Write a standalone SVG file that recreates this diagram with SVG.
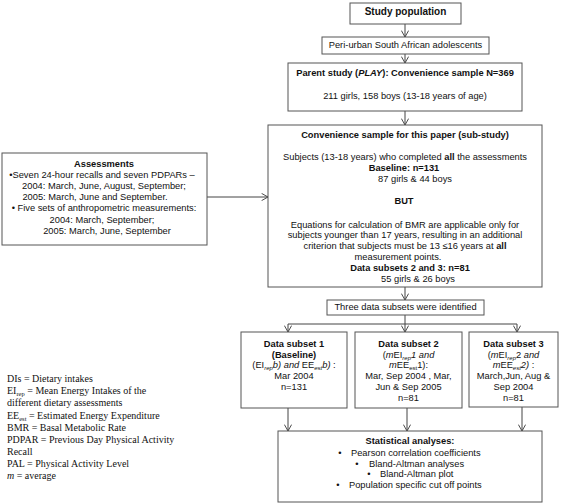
<svg xmlns="http://www.w3.org/2000/svg" width="569" height="504" viewBox="0 0 569 504">
<defs>
<style>
.box{fill:#fff;stroke:#555;stroke-width:1}
.t{font-family:"Liberation Sans",Arial,sans-serif;font-size:9.3px;fill:#111;text-anchor:middle}
.b{font-weight:bold}
.i{font-style:italic}
.lg{font-family:"Liberation Serif","Times New Roman",serif;font-size:10px;fill:#111}
.c{stroke:#444;fill:none;stroke-width:1}
</style>
<marker id="ah" viewBox="0 0 10 10" refX="10" refY="5" markerWidth="8" markerHeight="8" markerUnits="userSpaceOnUse" orient="auto">
<path d="M2,0.5 L10,5 L2,9.5" fill="none" stroke="#444" stroke-width="1.2"/>
</marker>
</defs>
<rect width="569" height="504" fill="#fff"/>

<g id="connectors">
<line class="c" x1="405" y1="24" x2="405" y2="37" marker-end="url(#ah)"/>
<line class="c" x1="405" y1="54" x2="405" y2="63" marker-end="url(#ah)"/>
<line class="c" x1="405" y1="111" x2="405" y2="125" marker-end="url(#ah)"/>
<line class="c" x1="207" y1="197" x2="268" y2="197" marker-end="url(#ah)"/>
<line class="c" x1="405" y1="287" x2="405" y2="300" marker-end="url(#ah)"/>
<polyline class="c" points="405,315 405,324"/>
<line class="c" x1="288" y1="324" x2="517" y2="324"/>
<line class="c" x1="288" y1="324" x2="288" y2="332" marker-end="url(#ah)"/>
<line class="c" x1="405" y1="324" x2="405" y2="332" marker-end="url(#ah)"/>
<line class="c" x1="517" y1="324" x2="517" y2="332" marker-end="url(#ah)"/>
<line class="c" x1="288" y1="408" x2="288" y2="431" marker-end="url(#ah)"/>
<line class="c" x1="407" y1="408" x2="407" y2="431" marker-end="url(#ah)"/>
<line class="c" x1="522" y1="398" x2="522" y2="431" marker-end="url(#ah)"/>
</g>

<g id="study-population">
<rect class="box" x="350" y="3" width="111" height="21"/>
<text class="t b" x="405.5" y="14.6" style="font-size:10px">Study population</text>
</g>

<g id="peri-urban">
<rect class="box" x="322" y="37" width="167" height="17"/>
<text class="t" x="405.5" y="47.5">Peri-urban South African adolescents</text>
</g>

<g id="parent-study">
<rect class="box" x="288" y="63" width="234" height="48"/>
<text class="t b" x="405" y="75.5">Parent study (<tspan class="i">PLAY</tspan>): Convenience sample N=369</text>
<text class="t" x="405" y="98.5">211 girls, 158 boys (13-18 years of age)</text>
</g>

<g id="assessments">
<rect class="box" x="2" y="153" width="205" height="92"/>
<text class="t b" x="104" y="166.5">Assessments</text>
<text class="t" x="102" y="177.5">•Seven 24-hour recalls and seven PDPARs  –</text>
<text class="t" x="104" y="188.5">2004: March,  June,  August, September;</text>
<text class="t" x="95" y="199.5">2005: March,  June and September.</text>
<text class="t" x="104" y="210.5">• Five sets of anthropometric measurements:</text>
<text class="t" x="102" y="222.5">2004: March, September;</text>
<text class="t" x="107" y="233.5">2005: March, June, September</text>
</g>

<g id="convenience-sample">
<rect class="box" x="268" y="125" width="274" height="162"/>
<text class="t b" x="405" y="137.5">Convenience sample for this paper (sub-study)</text>
<text class="t" x="405" y="159.5">Subjects (13-18 years) who completed <tspan class="b">all</tspan> the assessments</text>
<text class="t b" x="404" y="170.5">Baseline: n=131</text>
<text class="t" x="415" y="181.5">87 girls &amp; 44 boys</text>
<text class="t b" x="404" y="203.5">BUT</text>
<text class="t" x="405" y="227.5">Equations for calculation of BMR are applicable only for</text>
<text class="t" x="405" y="238">subjects younger than 17 years, resulting in an additional</text>
<text class="t" x="405" y="248.5">criterion that subjects must be 13 ≤16 years at <tspan class="b">all</tspan></text>
<text class="t" x="398" y="259.5">measurement points.</text>
<text class="t b" x="410" y="270.5">Data subsets 2 and 3: n=81</text>
<text class="t" x="418" y="281.5">55 girls &amp; 26 boys</text>
</g>

<g id="three-subsets">
<rect class="box" x="327" y="300" width="157" height="15"/>
<text class="t" x="405.5" y="310.2">Three data subsets were identified</text>
</g>

<g id="subset-1">
<rect class="box" x="241" y="332" width="106" height="76"/>
<text class="t b" x="294" y="346.5">Data subset 1</text>
<text class="t b" x="294" y="357.5">(Baseline)</text>
<text class="t" x="294" y="367.5">(EI<tspan class="i" font-size="6" dy="2">rep</tspan><tspan class="i" dy="-2">b) and </tspan>EE<tspan class="i" font-size="6" dy="2">est</tspan><tspan class="i" dy="-2">b)</tspan> :</text>
<text class="t" x="294" y="378.5">Mar 2004</text>
<text class="t" x="294" y="389.5">n=131</text>
</g>

<g id="subset-2">
<rect class="box" x="355" y="332" width="107" height="76"/>
<text class="t b" x="408.5" y="346.5">Data subset 2</text>
<text class="t" x="408.5" y="357.5">(<tspan class="i">m</tspan>EI<tspan class="i" font-size="6" dy="2">rep</tspan><tspan class="i" dy="-2">1 and</tspan></text>
<text class="t" x="408.5" y="367.5"><tspan class="i">m</tspan>EE<tspan font-size="6" dy="2">est</tspan><tspan dy="-2">1):</tspan></text>
<text class="t" x="408.5" y="378.5">Mar, Sep 2004 , Mar,</text>
<text class="t" x="408.5" y="389.5">Jun &amp; Sep 2005</text>
<text class="t" x="408.5" y="400.5">n=81</text>
</g>

<g id="subset-3">
<rect class="box" x="469" y="332" width="89" height="75"/>
<text class="t b" x="513.5" y="346.5">Data subset 3</text>
<text class="t" x="513.5" y="357.5">(<tspan class="i">m</tspan>EI<tspan class="i" font-size="6" dy="2">rep</tspan><tspan dy="-2">2 </tspan><tspan class="i">and</tspan></text>
<text class="t" x="513.5" y="367.5"><tspan class="i">m</tspan>EE<tspan class="i" font-size="6" dy="2">est</tspan><tspan class="i" dy="-2">2)</tspan> :</text>
<text class="t" x="513.5" y="378.5">March,Jun, Aug &amp;</text>
<text class="t" x="513.5" y="389.5">Sep 2004</text>
<text class="t" x="513.5" y="400.5">n=81</text>
</g>

<g id="statistical-analyses">
<rect class="box" x="278" y="431" width="264" height="71"/>
<text class="t b" x="410" y="443.5">Statistical analyses:</text>
<text class="t" x="340" y="455.5">•</text>
<text class="t" x="351" y="455.5" style="text-anchor:start">Pearson correlation coefficients</text>
<text class="t" x="357" y="466.5">•</text>
<text class="t" x="369" y="466.5" style="text-anchor:start">Bland-Altman analyses</text>
<text class="t" x="369" y="476.5">•</text>
<text class="t" x="380" y="476.5" style="text-anchor:start">Bland-Altman plot</text>
<text class="t" x="338" y="487.5">•</text>
<text class="t" x="349" y="487.5" style="text-anchor:start">Population specific cut off points</text>
</g>

<g id="legend">
<text class="lg" x="7" y="382">DIs = Dietary intakes</text>
<text class="lg" x="7" y="394">EI<tspan font-size="6.5" dy="2">rep</tspan><tspan dy="-2"> = Mean Energy Intakes of the</tspan></text>
<text class="lg" x="7" y="406">different dietary assessments</text>
<text class="lg" x="7" y="418.5">EE<tspan font-size="6.5" dy="2">est</tspan><tspan dy="-2">  =  Estimated Energy  Expenditure</tspan></text>
<text class="lg" x="7" y="430.5">BMR  = Basal Metabolic Rate</text>
<text class="lg" x="7" y="442.5">PDPAR = Previous Day Physical Activity</text>
<text class="lg" x="7" y="455">Recall</text>
<text class="lg" x="7" y="467">PAL = Physical Activity Level</text>
<text class="lg" x="7" y="479"><tspan font-style="italic">m</tspan> = average</text>
</g>
</svg>
